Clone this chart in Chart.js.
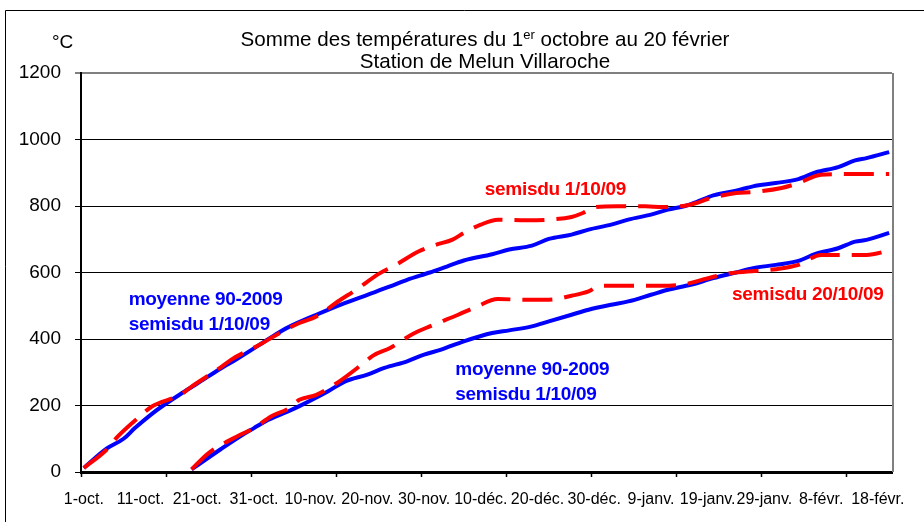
<!DOCTYPE html>
<html><head><meta charset="utf-8">
<style>html,body{margin:0;padding:0;background:#fff;}canvas{display:block;}</style>
<script src="https://cdn.jsdelivr.net/npm/chart.js@4.4.1/dist/chart.umd.min.js"></script>
</head><body>
<canvas id="c" width="924" height="522"></canvas>
<script>
// ---- text ----
const titleParts = ['Somme des températures du 1', 'er', ' octobre au 20 février'];
const titleLine2 = 'Station de Melun Villaroche';
const unitLabel = '°C';
const noteMoyenne = 'moyenne 90-2009';
const noteSemis1 = 'semisdu 1/10/09';
const noteSemis20 = 'semisdu 20/10/09';

// ---- axes ----
const xLabels = ['1-oct.','11-oct.','21-oct.','31-oct.','10-nov.','20-nov.','30-nov.','10-déc.','20-déc.','30-déc.','9-janv.','19-janv.','29-janv.','8-févr.','18-févr.'];
const labelDays = [0,10,20,30,40,50,60,70,80,90,100,110,120,130,140];
const tickMarkDays = [-0.5,14.5,29.5,44.5,59.5,74.5,89.5,104.5,119.5,134.5];
const yTicks = [0,200,400,600,800,1000,1200];

// ---- series (day index from 1 Oct, cumulated °C) ----
const moy1Days = [0,4,7,9,12,14,17,20,24,27,31,33,36,41,46,50,54,57,61,64,67,72,75,79,82,86,89,93,96,100,103,106,108,111,115,118,122,126,129,133,136,138,142];
const moy1Vals = [12,70,100,132,175,200,234,266,310,340,383,405,435,473,508,533,558,578,600,618,636,655,669,681,701,714,729,744,759,774,789,800,812,832,846,859,869,881,901,917,937,944,962];

const semis1Days = [0,4,6,10,12,17,19,24,26,31,34,38,41,45,48,52,55,59,62,65,67,70,73,78,82,86,88,90,94,99,102,106,108,110,115,118,123,126,130,134,140,142];
const semis1Vals = [12,67,107,169,197,232,257,313,338,383,413,448,468,515,548,596,623,663,683,699,719,744,759,757,759,767,779,796,799,799,797,801,809,821,839,842,854,869,894,896,896,896];

const moy20Days = [19,24,28,30,32,36,38,43,46,50,53,57,60,63,67,72,75,79,82,86,89,93,96,100,103,107,111,115,118,122,126,129,133,136,138,142];
const moy20Vals = [8,67,112,132,152,182,198,242,272,293,313,333,353,368,393,418,426,438,453,473,488,503,513,533,548,563,583,600,613,623,635,656,673,693,698,719];

const semis20Days = [19,22,27,30,33,36,38,41,45,49,51,54,58,61,66,69,73,78,82,86,89,91,95,98,102,106,108,109,114,117,122,126,130,134,138,142];
const semis20Vals = [8,57,107,132,167,190,217,232,272,323,350,373,415,438,473,495,520,518,518,530,543,560,560,560,560,565,573,578,598,603,610,623,653,653,653,666];

const pts = (d, v) => d.map((x, i) => ({x, y: v[i]}));
const FONT = '"Liberation Sans", Arial, sans-serif';
const BLUE = '#0000FF', RED = '#FF0000';

const notes = [
  {lines: [noteMoyenne, noteSemis1], color: BLUE, day: 7.9, val: 503},
  {lines: [noteSemis1], color: RED, day: 70.7, val: 832},
  {lines: [noteSemis20], color: RED, day: 114.3, val: 518},
  {lines: [noteMoyenne, noteSemis1], color: BLUE, day: 65.5, val: 292}
];

const deco = {
  id: 'deco',
  beforeDraw(chart) {
    const c = chart.ctx;
    c.save();
    c.fillStyle = '#fff';
    c.fillRect(0, 0, chart.width, chart.height);
    c.strokeStyle = '#000'; c.lineWidth = 1;
    c.beginPath(); c.moveTo(5.5, chart.height); c.lineTo(5.5, 10.5); c.lineTo(chart.width, 10.5); c.stroke();
    c.restore();
  },
  beforeDatasetsDraw(chart) {
    const c = chart.ctx, a = chart.chartArea;
    c.save(); c.strokeStyle = '#808080'; c.lineWidth = 2;
    c.beginPath(); c.moveTo(a.right + 1, a.top); c.lineTo(a.right + 1, a.bottom); c.stroke();
    c.restore();
  },
  afterDraw(chart) {
    const c = chart.ctx;
    const xs = chart.scales.x, ys = chart.scales.y;
    c.save();
    c.fillStyle = '#000'; c.textBaseline = 'alphabetic'; c.textAlign = 'left';
    const f1 = '20.6px ' + FONT, fs = '13px ' + FONT;
    c.font = f1;
    const w1 = c.measureText(titleParts[0]).width, w3 = c.measureText(titleParts[2]).width;
    c.font = fs;
    const w2 = c.measureText(titleParts[1]).width;
    const cx = 485;
    let x = cx - (w1 + w2 + w3) / 2;
    c.font = f1; c.fillText(titleParts[0], x, 46); x += w1;
    c.font = fs; c.fillText(titleParts[1], x, 39); x += w2;
    c.font = f1; c.fillText(titleParts[2], x, 46);
    c.textAlign = 'center'; c.fillText(titleLine2, cx, 68);
    c.textAlign = 'left'; c.font = '19px ' + FONT; c.fillText(unitLabel, 52, 48);
    c.font = 'bold 19px ' + FONT;
    c.letterSpacing = '-0.3px';
    notes.forEach(n => {
      c.fillStyle = n.color;
      const px = xs.getPixelForValue(n.day), py = ys.getPixelForValue(n.val);
      n.lines.forEach((t, i) => c.fillText(t, px, py + i * 25.5));
    });
    c.restore();
  }
};

const mk = (label, d, v, color, dashed) => ({
  label, data: pts(d, v), borderColor: color, backgroundColor: color,
  borderWidth: 4, pointRadius: 0, fill: false, tension: 0,
  cubicInterpolationMode: 'monotone',
  borderDash: dashed ? [30, 12] : [], borderCapStyle: 'butt', borderJoinStyle: 'round',
  order: dashed ? 0 : 1
});

new Chart(document.getElementById('c'), {
  type: 'line',
  data: {
    datasets: [
      mk('moyenne 90-2009 semis du 1/10/09', moy1Days, moy1Vals, BLUE, false),
      mk('semis du 1/10/09', semis1Days, semis1Vals, RED, true),
      mk('moyenne 90-2009 semis du 20/10/09', moy20Days, moy20Vals, BLUE, false),
      mk('semis du 20/10/09', semis20Days, semis20Vals, RED, true)
    ]
  },
  options: {
    responsive: false, animation: false, devicePixelRatio: 1,
    layout: {padding: {top: 73, right: 32, left: 0, bottom: 0}},
    plugins: {legend: {display: false}, tooltip: {enabled: false}, title: {display: false}},
    scales: {
      x: {
        type: 'linear', min: -0.5, max: 142.5,
        afterBuildTicks: s => {
          const all = labelDays.concat(tickMarkDays).sort((p, q) => p - q);
          s.ticks = all.map(v => ({value: v}));
        },
        afterFit: s => { s.height = 50; },
        ticks: {
          autoSkip: false, maxRotation: 0, minRotation: 0, padding: 13, color: '#000',
          font: {family: FONT, size: 16},
          callback: v => { const i = labelDays.indexOf(v); return i >= 0 ? xLabels[i] : ''; }
        },
        grid: {
          drawOnChartArea: false, drawTicks: true, tickLength: 5, tickWidth: 1.5,
          tickColor: ctx => (ctx.tick && tickMarkDays.includes(ctx.tick.value)) ? '#000' : 'rgba(0,0,0,0)'
        },
        border: {color: '#000', width: 3}
      },
      y: {
        min: 0, max: 1200,
        afterBuildTicks: s => { s.ticks = yTicks.map(v => ({value: v})); },
        afterFit: s => { s.width = 81; },
        ticks: {color: '#000', padding: 14, font: {family: FONT, size: 19}, callback: v => String(v)},
        grid: {
          color: ctx => (ctx.tick && ctx.tick.value === 1200) ? '#808080' : '#000',
          lineWidth: ctx => (ctx.tick && ctx.tick.value === 1200) ? 2 : 1,
          tickColor: '#000', tickLength: 6, tickWidth: 1
        },
        border: {color: '#000', width: 2}
      }
    }
  },
  plugins: [deco]
});
</script>
</body></html>
